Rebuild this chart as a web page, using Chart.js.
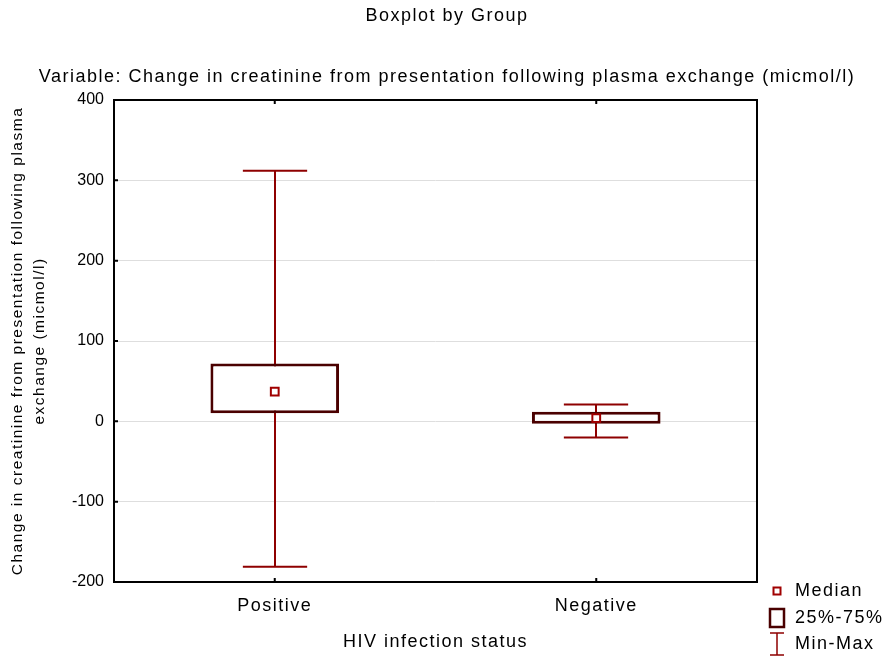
<!DOCTYPE html>
<html>
<head>
<meta charset="utf-8">
<title>Boxplot by Group</title>
<script src="https://cdn.jsdelivr.net/npm/chart.js@4.4.0/dist/chart.umd.min.js"></script>
<style>
  html, body { margin: 0; padding: 0; background: #fff; }
  #wrap { width: 888px; height: 660px; }
</style>
</head>
<body>
<div id="wrap"><canvas id="chart"></canvas></div>
<script>
const groups = ['Positive', 'Negative'];
const mins = [-181, -20];
const q1s = [10, -3];
const medians = [37, 4];
const q3s = [72, 12];
const maxs = [312, 21];
const yTicks = [-200, -100, 0, 100, 200, 300, 400];
const legendItems = ['Median', '25%-75%', 'Min-Max'];

const FONT = "'Liberation Sans', Arial, sans-serif";
const WHISKER = '#8e0000';
const BOX = '#4a0000';
const MEDIAN = '#a00000';
const SPACING = '1.5px';

// the reference text is spaced out a little, canvas letterSpacing gets close
const spacing = {
    id: 'spacing',
    beforeUpdate(chart) { chart.ctx.letterSpacing = SPACING; },
    beforeLayout(chart) { chart.ctx.letterSpacing = SPACING; },
    beforeDraw(chart) { chart.ctx.letterSpacing = SPACING; }
};

// min-max whiskers, drawn under the boxes
const whiskers = {
    id: 'whiskers',
    beforeDatasetsDraw(chart) {
        const { ctx, scales: { x, y } } = chart;
        const bars = chart.getDatasetMeta(1).data;
        ctx.save();
        ctx.strokeStyle = WHISKER;
        ctx.lineWidth = 2;
        groups.forEach((g, i) => {
            const cx = Math.round(x.getPixelForValue(i));
            const half = bars[i].width / 4;
            const top = y.getPixelForValue(maxs[i]);
            const bot = y.getPixelForValue(mins[i]);
            ctx.beginPath();
            ctx.moveTo(cx, top); ctx.lineTo(cx, bot);
            ctx.moveTo(cx - half, top); ctx.lineTo(cx + half, top);
            ctx.moveTo(cx - half, bot); ctx.lineTo(cx + half, bot);
            ctx.stroke();
        });
        ctx.restore();
    }
};

// plot frame with small inward ticks
const frame = {
    id: 'frame',
    afterDatasetsDraw(chart) {
        const { ctx, chartArea: a, scales: { x, y } } = chart;
        ctx.save();
        ctx.strokeStyle = '#000';
        ctx.lineWidth = 2;
        ctx.strokeRect(a.left, a.top, a.right - a.left, a.bottom - a.top);
        ctx.beginPath();
        y.ticks.forEach(t => {
            const py = y.getPixelForValue(t.value);
            ctx.moveTo(a.left, py); ctx.lineTo(a.left + 4, py);
        });
        groups.forEach((g, i) => {
            const px = x.getPixelForValue(i);
            ctx.moveTo(px, a.top); ctx.lineTo(px, a.top + 4);
            ctx.moveTo(px, a.bottom); ctx.lineTo(px, a.bottom - 4);
        });
        ctx.stroke();
        ctx.restore();
    }
};

// legend in the lower right corner, below the plot
const legendBox = {
    id: 'legendBox',
    afterDraw(chart) {
        const { ctx, chartArea: a } = chart;
        const ix = a.right + 20;
        const tx = a.right + 38;
        const rows = [a.bottom + 9, a.bottom + 36, a.bottom + 62];
        ctx.save();

        ctx.lineWidth = 2;
        ctx.strokeStyle = MEDIAN;
        ctx.strokeRect(ix - 3.5, rows[0] - 3.5, 7, 7);

        ctx.lineWidth = 2.5;
        ctx.strokeStyle = BOX;
        ctx.strokeRect(ix - 7, rows[1] - 9, 14, 18);

        ctx.lineWidth = 1.5;
        ctx.strokeStyle = WHISKER;
        ctx.beginPath();
        ctx.moveTo(ix, rows[2] - 11); ctx.lineTo(ix, rows[2] + 11);
        ctx.moveTo(ix - 7, rows[2] - 11); ctx.lineTo(ix + 7, rows[2] - 11);
        ctx.moveTo(ix - 7, rows[2] + 11); ctx.lineTo(ix + 7, rows[2] + 11);
        ctx.stroke();

        ctx.fillStyle = '#000';
        ctx.font = '18px ' + FONT;
        ctx.textAlign = 'left';
        ctx.textBaseline = 'middle';
        legendItems.forEach((t, i) => ctx.fillText(t, tx, rows[i]));
        ctx.restore();
    }
};

new Chart(document.getElementById('chart'), {
    type: 'bar',
    data: {
        labels: groups,
        datasets: [
            {
                type: 'line',
                label: 'Median',
                data: medians,
                showLine: false,
                pointStyle: 'rect',
                pointRadius: 5.5,
                pointHoverRadius: 5.5,
                pointBorderWidth: 2,
                pointBorderColor: MEDIAN,
                pointBackgroundColor: '#fff',
                order: 1
            },
            {
                type: 'bar',
                label: '25%-75%',
                data: groups.map((g, i) => [q1s[i], q3s[i]]),
                backgroundColor: '#fff',
                borderColor: BOX,
                borderWidth: 3,
                borderSkipped: false,
                barPercentage: 0.4,
                categoryPercentage: 1,
                order: 2
            }
        ]
    },
    options: {
        responsive: true,
        maintainAspectRatio: false,
        animation: false,
        layout: { padding: { left: 6, right: 0, top: 0, bottom: 0 } },
        plugins: {
            legend: { display: false },
            tooltip: { enabled: false },
            title: {
                display: true,
                text: 'Boxplot by Group',
                color: '#000',
                font: { family: FONT, size: 18, weight: 'normal' },
                padding: { top: 5.2, bottom: 39.4 }
            },
            subtitle: {
                display: true,
                text: 'Variable: Change in creatinine from presentation following plasma exchange (micmol/l)',
                color: '#000',
                font: { family: FONT, size: 18, weight: 'normal' },
                padding: { top: 0, bottom: 12.2 }
            }
        },
        scales: {
            x: {
                grid: { display: false },
                border: { display: false },
                ticks: { color: '#000', font: { family: FONT, size: 18 }, padding: 5.2 },
                title: {
                    display: true,
                    text: 'HIV infection status',
                    color: '#000',
                    font: { family: FONT, size: 18 },
                    padding: { top: 0, bottom: 7.2 }
                },
                afterFit(scale) { scale.height = 78; }
            },
            y: {
                min: -200,
                max: 400,
                afterBuildTicks(scale) { scale.ticks = yTicks.map(v => ({ value: v })); },
                grid: { color: '#dedede', lineWidth: 1, drawTicks: false },
                border: { display: false },
                ticks: { color: '#000', font: { family: FONT, size: 16 }, padding: 10 },
                title: {
                    display: true,
                    text: ['Change in creatinine from presentation following plasma', 'exchange (micmol/l)'],
                    color: '#000',
                    font: { family: FONT, size: 15.5, lineHeight: '22px' },
                    padding: { top: 1, bottom: 0 }
                },
                afterFit(scale) {
                    scale.width = 108;
                    // numbers on this axis are not spaced out in the reference
                    if (!scale._plainLabels) {
                        const draw = scale.drawLabels;
                        scale.drawLabels = function (area) {
                            const prev = this.ctx.letterSpacing;
                            this.ctx.letterSpacing = '0px';
                            draw.call(this, area);
                            this.ctx.letterSpacing = prev;
                        };
                        scale._plainLabels = true;
                    }
                }
            },
            // empty right axis keeps room for the legend while titles stay centred on the page
            right: {
                position: 'right',
                display: true,
                ticks: { display: false },
                grid: { display: false, drawTicks: false },
                border: { display: false },
                afterFit(scale) { scale.width = 131; }
            }
        }
    },
    plugins: [spacing, whiskers, frame, legendBox]
});
</script>
</body>
</html>
